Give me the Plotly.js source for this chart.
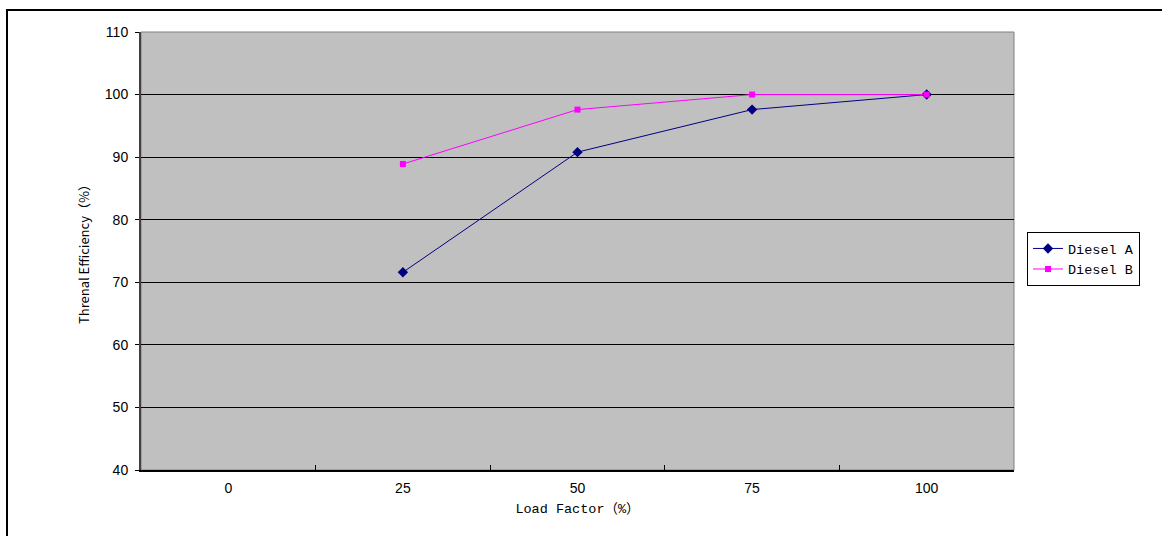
<!DOCTYPE html>
<html>
<head>
<meta charset="utf-8">
<script src="https://cdn.plot.ly/plotly-3.0.1.min.js"></script>
<style>
  html, body { margin: 0; padding: 0; overflow: hidden; background: #fff; }
  #wrap { position: relative; width: 1162px; height: 536px; }
  #chart { position: absolute; left: 0; top: 0; width: 1162px; height: 536px; }
  #frame { position: absolute; left: 6px; top: 9px; width: 1300px; height: 700px;
           border: 2px solid #000; pointer-events: none; }
</style>
</head>
<body>
<div id="wrap">
  <div id="chart"></div>
  <div id="frame"></div>
</div>
<script>
// Data
const loadFactors = ["0", "25", "50", "75", "100"];
const dieselA = [null, 71.6, 90.8, 97.6, 100];
const dieselB = [null, 88.9, 97.6, 100, 100];
const seriesNames = ["Diesel A", "Diesel B"];
const yTicks = [40, 50, 60, 70, 80, 90, 100, 110];

const traces = [
  {
    x: loadFactors, y: dieselA, name: seriesNames[0], type: "scatter", mode: "lines+markers",
    line: { color: "#000080", width: 1 },
    marker: { symbol: "diamond", size: 8, color: "#000080" },
    connectgaps: false
  },
  {
    x: loadFactors, y: dieselB, name: seriesNames[1], type: "scatter", mode: "lines+markers",
    line: { color: "#FF00FF", width: 1 },
    marker: { symbol: "square", size: 6, color: "#FF00FF" },
    connectgaps: false
  }
];

const layout = {
  width: 1162, height: 536,
  margin: { l: 141, r: 148, t: 32, b: 66, pad: 0 },
  paper_bgcolor: "#FFFFFF",
  plot_bgcolor: "#C0C0C0",
  showlegend: true,
  legend: {
    x: 1.0149, xanchor: "left", y: 0.543, yanchor: "top",
    bgcolor: "#FFFFFF", bordercolor: "#000000", borderwidth: 1,
    font: { family: "Liberation Mono, DejaVu Sans Mono, monospace", size: 13.5, color: "#000" },
    itemwidth: 30, tracegroupgap: 0
  },
  xaxis: {
    type: "category",
    categoryorder: "array", categoryarray: loadFactors,
    range: [-0.5, 4.5],
    tickson: "boundaries",
    ticks: "inside", ticklen: 5, tickcolor: "#000", tickwidth: 1,
    ticklabelstandoff: 4,
    showgrid: false, zeroline: false,
    showline: true, linecolor: "#000", linewidth: 2,
    tickfont: { family: "Liberation Sans, Arial, sans-serif", size: 14, color: "#000" },
    title: { text: "Load Factor（%）", standoff: 9,
             font: { family: "Liberation Mono, Noto Sans CJK JP, monospace", size: 13.5, color: "#000" } }
  },
  yaxis: {
    range: [40, 110],
    tickvals: yTicks,
    ticks: "outside", ticklen: 4, tickcolor: "#000", tickwidth: 1,
    ticklabelstandoff: 4,
    showgrid: true, gridcolor: "#000000", gridwidth: 1,
    zeroline: false,
    showline: true, linecolor: "#404040", linewidth: 2,
    tickfont: { family: "Liberation Sans, Arial, sans-serif", size: 14, color: "#000" },
    title: { text: "Threnal Efficiency（%）", standoff: 12,
             font: { family: "Noto Sans CJK JP, sans-serif", size: 13, color: "#000" } }
  },
  shapes: [
    { type: "rect", xref: "paper", yref: "paper", x0: 0, x1: 1, y0: 0, y1: 1,
      line: { color: "#808080", width: 1 }, fillcolor: "rgba(0,0,0,0)", layer: "below" }
  ]
};

Plotly.newPlot("chart", traces, layout, { displayModeBar: false, staticPlot: true });
</script>
</body>
</html>
